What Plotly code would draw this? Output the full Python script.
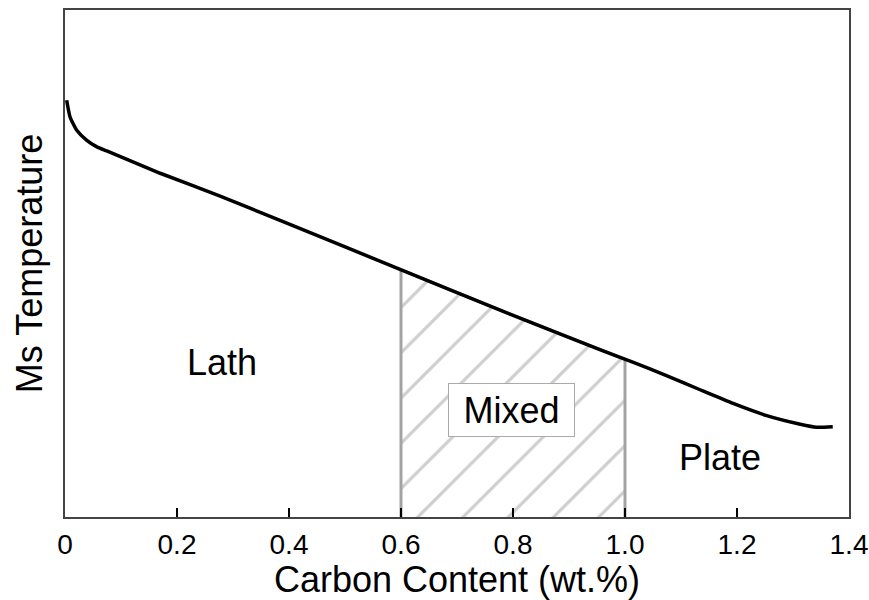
import numpy as np
import plotly.graph_objects as go

# Ms temperature curve (arbitrary units on the y axis)
carbon = [0.003, 0.009, 0.021, 0.039, 0.057, 0.0745, 0.170, 0.277, 0.384,
          0.595, 0.777, 0.955, 1.015, 1.074, 1.134, 1.193, 1.253, 1.313,
          1.342, 1.371]
ms_temp = [82.2, 78.9, 76.3, 74.3, 73.0, 72.2, 67.8, 63.3, 58.5,
           49.0, 40.8, 33.0, 30.5, 27.9, 25.1, 22.4, 20.0, 18.3,
           17.7, 17.8]

# Mixed-microstructure carbon window
mixed_range = [0.6, 1.0]

# Region labels
region_names = ["Lath", "Mixed", "Plate"]
label_x = [0.28, 0.797, 1.169]
label_y = [30.5, 21.1, 11.8]

# X tick labels
tick_vals = [0, 0.2, 0.4, 0.6, 0.8, 1.0, 1.2, 1.4]
tick_text = ["0", "0.2", "0.4", "0.6", "0.8", "1.0", "1.2", "1.4"]

FONT = "Liberation Sans, Arial, sans-serif"

lo, hi = mixed_range
inner = [c for c in carbon if lo < c < hi]
poly_x = [lo, lo] + inner + [hi, hi]
poly_y = ([0, float(np.interp(lo, carbon, ms_temp))]
          + [float(np.interp(c, carbon, ms_temp)) for c in inner]
          + [float(np.interp(hi, carbon, ms_temp)), 0])

fig = go.Figure()

fig.add_trace(go.Scatter(
    x=poly_x, y=poly_y, mode="lines", fill="toself",
    fillcolor="white",
    fillpattern=dict(shape="/", size=32, solidity=0.1,
                     fgcolor="#9e9e9e", bgcolor="white"),
    line=dict(color="#a3a3a3", width=3),
    hoverinfo="skip", showlegend=False,
))

fig.add_trace(go.Scatter(
    x=carbon, y=ms_temp, mode="lines",
    line=dict(color="black", width=3.5, shape="spline", smoothing=0.5),
    showlegend=False,
))

for name, xx, yy in zip(region_names, label_x, label_y):
    boxed = name == "Mixed"
    fig.add_annotation(
        x=xx, y=yy, text=name, showarrow=False,
        font=dict(family=FONT, size=36, color="black"),
        bgcolor="white" if boxed else None,
        bordercolor="#aaaaaa" if boxed else None,
        borderwidth=1 if boxed else 0,
        borderpad=5 if boxed else 0,
        width=115 if boxed else None,
        height=42 if boxed else None,
    )

fig.update_layout(
    width=869, height=600,
    margin=dict(l=65, r=20, t=10, b=83, autoexpand=False),
    paper_bgcolor="white", plot_bgcolor="white",
    font=dict(family=FONT, color="black"),
    xaxis=dict(
        range=[0, 1.4], tickvals=tick_vals, ticktext=tick_text,
        ticks="inside", ticklen=9, tickwidth=2, tickcolor="black",
        showline=True, linecolor="#444444", linewidth=1.5, mirror=True,
        showgrid=False, zeroline=False, automargin=False,
        tickfont=dict(family=FONT, size=28, color="black"),
        ticklabelstandoff=2,
        title=dict(text="Carbon Content (wt.%)",
                   font=dict(family=FONT, size=36, color="black"),
                   standoff=2),
    ),
    yaxis=dict(
        range=[0, 100], showticklabels=False, ticks="",
        showline=True, linecolor="#444444", linewidth=1.5, mirror=True,
        showgrid=False, zeroline=False, automargin=False,
        title=dict(text="Ms Temperature",
                   font=dict(family=FONT, size=36, color="black"),
                   standoff=10),
    ),
)

fig.write_html("out.html")
